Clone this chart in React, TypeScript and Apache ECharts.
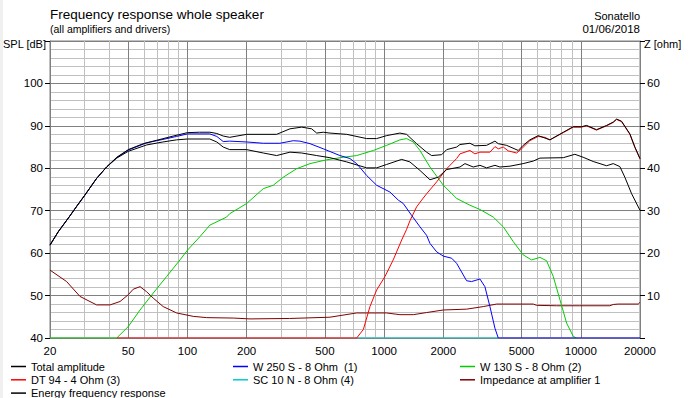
import React, { useEffect, useRef } from "react";
import * as echarts from "echarts";

// ---- data (frequency Hz, value) ----
const totalAmplitude: [number, number][] = [
  [20, 61.9], [22, 65.0], [25, 68.5], [27.5, 71.2], [30, 73.6], [34.5, 77.6], [38.8, 80.3], [43.7, 82.6],
  [50, 84.4], [59.6, 85.8], [69.7, 86.6], [84.7, 87.6], [100, 88.4], [115, 88.5], [130, 88.5], [141, 88.2],
  [152, 87.6], [164, 87.3], [200, 88.0], [284, 88.0], [332, 89.3], [381, 89.7], [428, 89.3], [454, 88.3],
  [490, 88.5], [530, 88.3], [645, 88.0], [815, 87.0], [916, 87.0], [1030, 87.7], [1203, 88.3], [1301, 88.0],
  [1462, 85.8], [1644, 83.8], [1744, 83.0], [1960, 83.2], [2080, 84.4], [2163, 84.6], [2337, 85.0], [2430, 85.6],
  [2730, 85.9], [2894, 85.3], [3318, 85.4], [3660, 86.4], [3805, 85.8], [4197, 85.4], [4808, 84.2], [5093, 85.4],
  [5508, 86.7], [6070, 87.7], [6966, 86.7], [8148, 88.5], [9150, 89.8], [10090, 89.8], [10700, 90.1], [12020, 89.1],
  [13520, 90.1], [14620, 90.9], [15200, 91.6], [16110, 91.1], [17770, 88.1], [18840, 85.0], [20000, 82.3],
];

const woofer250: [number, number][] = [
  [20, 61.9], [22, 65.0], [25, 68.5], [27.5, 71.2], [30, 73.6], [34.5, 77.6], [38.8, 80.3], [43.7, 82.5],
  [50, 84.3], [62, 86.0], [75, 86.8], [88, 87.5], [100, 88.1], [130, 88.1], [141, 87.5], [152, 86.3],
  [164, 86.4], [200, 86.2], [243, 85.9], [295, 85.9], [345, 86.5], [373, 86.4], [420, 85.8], [490, 84.6],
  [596, 83.0], [670, 82.3], [725, 81.1], [815, 78.3], [916, 76.0], [1070, 74.4], [1180, 72.5], [1251, 71.7],
  [1380, 68.9], [1521, 66.2], [1644, 64.2], [1710, 62.3], [1850, 60.3], [2000, 59.3], [2205, 58.8], [2337, 57.6],
  [2626, 53.5], [2783, 53.3], [3070, 53.9], [3254, 52.1], [3451, 47.4], [3660, 42.3], [3805, 40], [20000, 40],
];

const woofer130: [number, number][] = [
  [20, 40], [43.7, 40], [50, 42.7], [57.4, 46.6], [67, 50.6], [78.4, 54.5], [91.6, 58.4], [100, 60.7],
  [115.8, 63.9], [130, 66.6], [158, 68.5], [164, 69.3], [200, 71.7], [243, 75.2], [273, 76.0], [307, 77.9],
  [359, 79.9], [420, 81.1], [510, 82.0], [620, 82.6], [725, 83.0], [881, 84.2], [1030, 85.4], [1203, 86.7],
  [1301, 87.0], [1406, 86.2], [1521, 84.2], [1710, 80.3], [2000, 76.0], [2337, 72.9], [2730, 71.3], [3070, 70.3],
  [3590, 68.5], [4034, 66.2], [4538, 62.7], [5093, 59.6], [5620, 58.4], [6196, 59.0], [6700, 58.2], [7244, 54.5],
  [7835, 49.0], [8472, 43.5], [9150, 40.4], [9500, 40],
];

const tweeterDT94: [number, number][] = [
  [43.7, 40], [725, 40], [784, 42], [847, 47.4], [916, 51.3], [1010, 54.5], [1112, 58.4], [1228, 63.1],
  [1301, 65.6], [1352, 67.6], [1462, 70.9], [1552, 72.5], [1645, 74.0], [1850, 76.8], [2080, 79.9], [2337, 82.3],
  [2430, 83.4], [2730, 84.2], [2894, 83.4], [3070, 83.8], [3451, 83.8], [3660, 85.1], [3805, 84.6], [4034, 85.0],
  [4277, 84.1], [4719, 83.6], [5000, 84.6], [5508, 86.5], [6070, 87.5], [6570, 87.3], [6966, 86.7], [8148, 88.4],
  [9150, 89.7], [10090, 89.7], [10700, 90.0], [12020, 89.0], [13520, 90.0], [14620, 90.8], [15200, 91.5],
  [16110, 91.0], [17770, 88.0], [18840, 84.9], [20000, 82.2],
];

const superTweeterSC10N: [number, number][] = [
  [725, 40], [3805, 40],
];

const impedanceOhm: [number, number][] = [
  [20, 16.0], [24.3, 13.3], [28.4, 9.8], [34.5, 7.8], [40.4, 7.8], [45.4, 8.6], [50, 10.2], [53, 11.5],
  [57.4, 12.1], [62, 10.9], [67, 9.4], [75.3, 7.4], [88.1, 5.9], [107, 5.1], [125.3, 4.8], [171, 4.7],
  [208, 4.5], [330, 4.6], [530, 4.9], [725, 5.9], [1030, 5.9], [1203, 5.5], [1406, 5.5], [1645, 6.0],
  [2000, 6.6], [2626, 6.8], [3191, 7.4], [3733, 8.0], [5730, 8.0], [5960, 7.7], [7534, 7.6], [9890, 7.6],
  [14060, 7.6], [14620, 7.9], [15490, 8.0], [19590, 8.0], [20000, 8.4],
];

const energyResponse: [number, number][] = [
  [20, 61.9], [22, 65.0], [25, 68.5], [27.5, 71.2], [30, 73.6], [34.5, 77.6], [38.8, 80.3], [43.7, 82.4],
  [50, 84.0], [62, 85.5], [75, 86.2], [88, 86.7], [100, 86.9], [130, 86.9], [141, 86.2], [152, 85.0],
  [164, 84.4], [200, 84.4], [243, 83.6], [284, 83.0], [332, 83.8], [381, 83.6], [454, 83.0], [530, 82.5],
  [645, 81.5], [815, 80.1], [916, 80.1], [1030, 80.9], [1228, 82.1], [1352, 81.5], [1521, 79.5], [1710, 77.3],
  [1885, 77.9], [2080, 79.7], [2430, 80.3], [2576, 81.1], [2838, 80.3], [3070, 80.7], [3318, 80.1], [3660, 80.7],
  [3880, 80.3], [4364, 80.5], [5093, 81.1], [5730, 81.7], [6196, 82.4], [8148, 82.5], [9330, 83.3], [10280, 82.6],
  [11560, 81.6], [13520, 80.6], [14620, 81.1], [15800, 80.4], [16750, 77.9], [18130, 74.0], [20000, 70.1],
];

const freqLabelTicks = [20, 50, 100, 200, 500, 1000, 2000, 5000, 10000, 20000];
const freqMinorTicks = [30, 40, 60, 70, 80, 90, 300, 400, 600, 700, 800, 900, 3000, 4000, 6000, 7000, 8000, 9000];

const FONT = "'Liberation Sans', Arial, sans-serif";

// legend slots: [series name, column left, row]
const legendSlots: [string, number, number][] = [
  ["Total amplitude", 11, 0],
  ["W 250 S - 8 Ohm  (1)", 233, 0],
  ["W 130 S - 8 Ohm (2)", 460, 0],
  ["DT 94 - 4 Ohm (3)", 11, 1],
  ["SC 10 N - 8 Ohm (4)", 233, 1],
  ["Impedance at amplifier 1", 460, 1],
  ["Energy frequency response", 11, 2],
];

export default function App() {
  const ref = useRef<HTMLDivElement>(null);
  useEffect(() => {
    if (!ref.current) return;
    const chart = echarts.init(ref.current, undefined, { renderer: "svg" });
    const line = (name: string, data: [number, number][], color: string, yAxisIndex = 0, z = 3) => ({
      name,
      type: "line",
      data,
      xAxisIndex: 0,
      yAxisIndex,
      symbol: "none",
      showSymbol: false,
      z,
      lineStyle: { color, width: 1 },
      itemStyle: { color },
      silent: true,
    });
    const legends = legendSlots.map(([name, left, row]) => ({
      orient: "horizontal",
      left,
      top: 360 + row * 13.3,
      itemWidth: 15,
      itemHeight: 1.5,
      icon: "rect",
      selectedMode: false,
      padding: 0,
      data: [name],
      textStyle: { fontSize: 11, fontFamily: FONT, color: "#000", lineHeight: 13 },
    }));
    chart.setOption({
      animation: false,
      backgroundColor: "#ffffff",
      textStyle: { fontFamily: FONT },
      grid: {
        left: 50, right: 49, top: 41, bottom: 60,
        show: true, borderColor: "#808080", borderWidth: 1, backgroundColor: "#ffffff",
      },
      xAxis: [
        {
          type: "log", logBase: 10, min: 20, max: 20000, position: "bottom",
          axisLine: { show: true, lineStyle: { color: "#808080" } },
          axisTick: { show: false, customValues: freqMinorTicks },
          axisLabel: { show: false },
          splitLine: { show: true, lineStyle: { color: "#c0c0c0", width: 1 } },
        },
        {
          type: "log", logBase: 10, min: 20, max: 20000, position: "bottom",
          axisLine: { show: false },
          axisTick: { show: false, customValues: freqLabelTicks },
          axisLabel: {
            show: true, customValues: freqLabelTicks, margin: 7, color: "#000",
            fontSize: 11.5, fontFamily: FONT, formatter: (v: number) => String(Math.round(v)),
          },
          splitLine: { show: true, lineStyle: { color: "#808080", width: 1 } },
        },
      ],
      yAxis: [
        {
          type: "value", min: 40, max: 110, interval: 10, position: "left",
          axisLine: { show: true, lineStyle: { color: "#808080" } },
          axisTick: { show: true, inside: false, length: 5, lineStyle: { color: "#000" } },
          axisLabel: {
            margin: 7, color: "#000", fontSize: 11.5, fontFamily: FONT,
            formatter: (v: number) => (v >= 110 ? "" : String(v)),
          },
          splitLine: { show: true, lineStyle: { color: "#808080", width: 1 } },
          minorTick: { show: false, splitNumber: 5 },
          minorSplitLine: { show: true, lineStyle: { color: "#c0c0c0", width: 1 } },
        },
        {
          type: "value", min: 0, max: 70, interval: 10, position: "right",
          axisLine: { show: true, lineStyle: { color: "#808080" } },
          axisTick: { show: true, inside: false, length: 5, lineStyle: { color: "#000" } },
          axisLabel: {
            margin: 7, color: "#000", fontSize: 11.5, fontFamily: FONT,
            formatter: (v: number) => (v <= 0 || v >= 70 ? "" : String(v)),
          },
          splitLine: { show: false },
        },
      ],
      legend: legends,
      graphic: [
        { type: "rect", left: 0, top: 0, shape: { width: 3, height: 398 }, style: { fill: "#f0f0f0" }, silent: true },
        { type: "text", x: 50, y: 14, style: { text: "Frequency response whole speaker", fontSize: 13.5, fontFamily: FONT, fill: "#000", align: "left", verticalAlign: "middle" } },
        { type: "text", x: 50, y: 29, style: { text: "(all amplifiers and drivers)", fontSize: 10.5, fontFamily: FONT, fill: "#000", align: "left", verticalAlign: "middle" } },
        { type: "text", x: 640, y: 16, style: { text: "Sonatello", fontSize: 11, fontFamily: FONT, fill: "#000", align: "right", verticalAlign: "middle" } },
        { type: "text", x: 640, y: 29, style: { text: "01/06/2018", fontSize: 11.5, fontFamily: FONT, fill: "#000", align: "right", verticalAlign: "middle" } },
        { type: "text", x: 3, y: 44, style: { text: "SPL [dB]", fontSize: 11, fontFamily: FONT, fill: "#000", align: "left", verticalAlign: "middle" } },
        { type: "text", x: 644, y: 44, style: { text: "Z [ohm]", fontSize: 11, fontFamily: FONT, fill: "#000", align: "left", verticalAlign: "middle" } },
      ],
      series: [
        line("Impedance at amplifier 1", impedanceOhm, "#800000", 1, 3),
        line("W 130 S - 8 Ohm (2)", woofer130, "#00cc00", 0, 4),
        line("SC 10 N - 8 Ohm (4)", superTweeterSC10N, "#00cccc", 0, 5),
        line("DT 94 - 4 Ohm (3)", tweeterDT94, "#ff0000", 0, 5),
        line("W 250 S - 8 Ohm  (1)", woofer250, "#0000ff", 0, 6),
        line("Energy frequency response", energyResponse, "#000000", 0, 7),
        line("Total amplitude", totalAmplitude, "#000000", 0, 8),
      ],
    });
    return () => chart.dispose();
  }, []);
  return (
    <div
      ref={ref}
      style={{ position: "fixed", left: 0, top: 0, width: 689, height: 398, background: "#fff" }}
    />
  );
}
